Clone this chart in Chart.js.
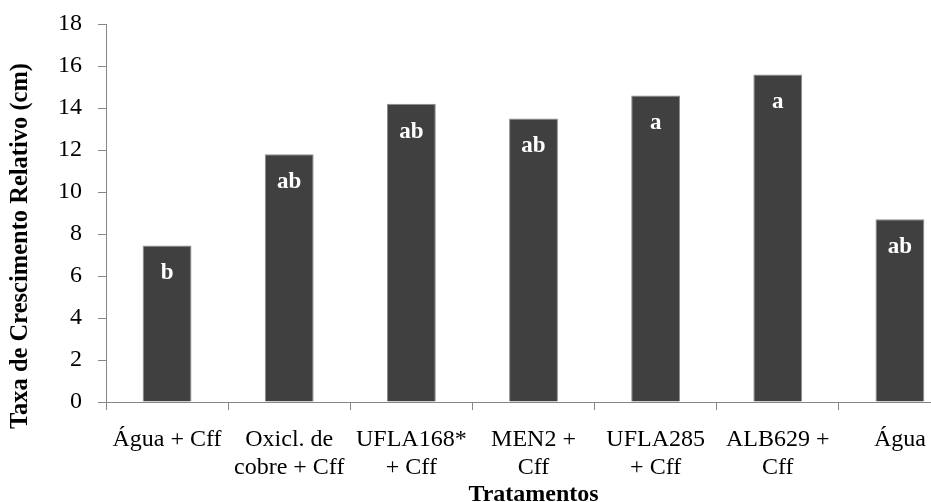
<!DOCTYPE html>
<html>
<head>
<meta charset="utf-8">
<script src="https://cdn.jsdelivr.net/npm/chart.js@4/dist/chart.umd.min.js"></script>
<style>
  html, body { margin: 0; padding: 0; background: #ffffff; overflow: hidden; }
  #wrap { width: 966px; height: 512px; }
</style>
</head>
<body>
<div id="wrap"><canvas id="c" width="966" height="512"></canvas></div>
<script>
const categories = [
  "Água + Cff",
  ["Oxicl. de", "cobre + Cff"],
  ["UFLA168*", "+ Cff"],
  ["MEN2 +", "Cff"],
  ["UFLA285", "+ Cff"],
  ["ALB629 +", "Cff"],
  "Água"
];
const values = [7.45, 11.8, 14.2, 13.5, 14.6, 15.6, 8.7];
const letters = ["b", "ab", "ab", "ab", "a", "a", "ab"];
const yTicks = [0, 2, 4, 6, 8, 10, 12, 14, 16, 18];
const yTitle = "Taxa de Crescimento Relativo (cm)";
const xTitle = "Tratamentos";

const SERIF = '"Liberation Serif", "Times New Roman", serif';
const AXIS = '#868686';

const letterPlugin = {
  id: 'letters',
  afterDatasetsDraw(chart) {
    const ctx = chart.ctx;
    const meta = chart.getDatasetMeta(0);
    ctx.save();
    ctx.font = 'bold 23px ' + SERIF;
    ctx.fillStyle = '#ffffff';
    ctx.textAlign = 'center';
    ctx.textBaseline = 'middle';
    meta.data.forEach((bar, i) => {
      ctx.fillText(letters[i], bar.x, bar.y + 28);
    });
    ctx.restore();
  }
};

const yTitlePlugin = {
  id: 'ytitle',
  afterDraw(chart) {
    const ctx = chart.ctx;
    const a = chart.chartArea;
    ctx.save();
    ctx.translate(21, (a.top + a.bottom) / 2 + 33);
    ctx.rotate(-Math.PI / 2);
    ctx.font = 'bold 24.5px ' + SERIF;
    ctx.fillStyle = '#000000';
    ctx.textAlign = 'center';
    ctx.textBaseline = 'middle';
    ctx.fillText(yTitle, 0, 0);
    ctx.restore();
  }
};

new Chart(document.getElementById('c'), {
  type: 'bar',
  data: {
    labels: categories,
    datasets: [{
      data: values,
      backgroundColor: '#404040',
      borderColor: '#8c8c8c',
      borderWidth: 1,
      barPercentage: 0.4,
      categoryPercentage: 1.0
    }]
  },
  options: {
    responsive: false,
    animation: false,
    devicePixelRatio: 1,
    layout: { padding: { top: 24, right: 5, left: 0, bottom: 0 } },
    plugins: {
      legend: { display: false },
      tooltip: { enabled: false }
    },
    scales: {
      x: {
        offset: true,
        grid: {
          display: true,
          offset: true,
          drawOnChartArea: false,
          drawTicks: true,
          tickLength: 8,
          color: AXIS,
          lineWidth: 1
        },
        border: { display: true, color: AXIS, width: 1 },
        ticks: {
          color: '#000000',
          font: { family: SERIF, size: 24, lineHeight: 1.15 },
          padding: 16,
          maxRotation: 0,
          minRotation: 0,
          autoSkip: false
        },
        title: {
          display: true,
          text: xTitle,
          color: '#000000',
          font: { family: SERIF, size: 24, weight: 'bold', lineHeight: 1.2 },
          padding: { top: 0, bottom: 3 }
        },
        afterFit(scale) { scale.height = 110; }
      },
      y: {
        min: 0,
        max: 18,
        afterBuildTicks(scale) { scale.ticks = yTicks.map(v => ({ value: v })); },
        grid: {
          display: true,
          drawOnChartArea: false,
          drawTicks: true,
          tickLength: 8,
          color: AXIS,
          lineWidth: 1
        },
        border: { display: true, color: AXIS, width: 1 },
        ticks: {
          color: '#000000',
          font: { family: SERIF, size: 24 },
          padding: 16
        },
        afterFit(scale) {
          scale.width = 106;
          scale.paddingTop = 0;
          scale.paddingBottom = 0;
        }
      }
    }
  },
  plugins: [letterPlugin, yTitlePlugin]
});
</script>
</body>
</html>
